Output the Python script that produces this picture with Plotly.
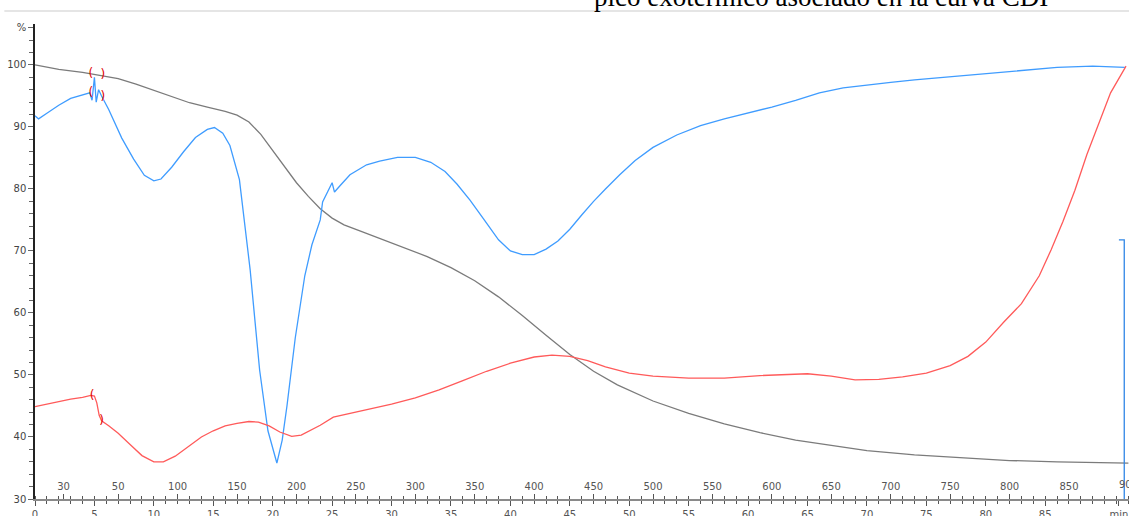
import plotly.graph_objects as go

# ---------------- data ----------------
# TGA mass curve (gray), time in min, value in %
tga_t = [0, 2, 4, 5, 6, 7, 8.5, 10, 11.5, 13, 14.5, 16, 17, 18, 19, 20, 21, 22, 23, 24, 25, 26,
         27.5, 29, 31, 33, 35, 37, 39, 41, 43, 45, 47, 49, 52, 55, 58, 61, 64, 67, 70, 74, 78, 82, 86, 92]
tga_v = [100, 99.3, 98.8, 98.5, 98.2, 97.8, 96.9, 95.9, 94.9, 93.9, 93.2, 92.5, 91.9, 90.8, 88.8, 86.2,
         83.6, 81.0, 78.8, 76.8, 75.3, 74.2, 73.1, 72.0, 70.6, 69.1, 67.3, 65.2, 62.6, 59.6, 56.4, 53.3,
         50.6, 48.4, 45.8, 43.8, 42.1, 40.7, 39.5, 38.6, 37.8, 37.1, 36.6, 36.2, 36.0, 35.8]

# DSC-type curve (blue)
dsc_t = [0, 0.3, 1, 2, 3, 4, 4.6, 4.8, 5.0, 5.15, 5.35, 5.6, 6.2, 7.3, 8.3, 9.2, 10, 10.6, 11.5, 12.5,
         13.5, 14.5, 15.1, 15.8, 16.4, 17.2, 18.1, 18.9, 19.3, 19.6, 20.35, 20.8, 21.2, 21.9, 22.7, 23.3,
         24.0, 24.2, 25.0, 25.2, 25.7, 26.5, 27.9, 29, 30.5, 32, 33.3, 34.5, 35.5, 36.6, 37.8, 39, 40, 41,
         42, 43, 44, 45, 46, 47, 48, 49.2, 50.5, 52, 54, 56, 58, 60, 62, 64, 66, 68, 70, 72, 74, 77, 80,
         83, 86, 89, 91.7]
dsc_v = [91.8, 91.3, 92.2, 93.5, 94.6, 95.2, 95.5, 94.3, 98.0, 94.0, 96.0, 95.0, 92.8, 88.2, 84.8, 82.2,
         81.3, 81.6, 83.5, 86.0, 88.3, 89.6, 89.9, 89.0, 87.0, 81.5, 67.0, 50.8, 45.0, 41.0, 35.8, 39.5,
         45.0, 56.0, 66.0, 71.0, 75.0, 77.9, 81.0, 79.5, 80.6, 82.3, 83.9, 84.5, 85.1, 85.1, 84.3, 82.8,
         80.8, 78.2, 75.0, 71.8, 70.0, 69.4, 69.4, 70.3, 71.6, 73.5, 75.8, 78.0, 80.0, 82.3, 84.6, 86.7,
         88.7, 90.2, 91.3, 92.2, 93.2, 94.3, 95.5, 96.3, 96.8, 97.2, 97.6, 98.1, 98.7, 99.2, 99.6, 99.8, 99.6]

# third curve (red)
red_t = [0, 1, 2, 3, 4, 4.7, 5.0, 5.2, 5.4, 5.6, 6.2, 7, 8, 9, 10, 10.8, 11.8, 13, 14, 15, 16, 17, 18,
         18.8, 19.7, 20.6, 21.6, 22.4, 23.2, 24, 25.1, 26.5, 28, 30, 32, 34, 36, 38, 40, 42, 43.5, 45,
         46.5, 48, 50, 52, 55, 58, 61, 63, 65, 67, 69, 71, 73, 75, 77, 78.5, 80, 81.5, 83, 84.5, 85.5,
         86.5, 87.5, 88.5, 89.5, 90.5, 91.8]
red_v = [44.9, 45.3, 45.8, 46.1, 46.4, 46.7, 46.6, 45.5, 43.5, 42.6, 41.8, 40.6, 38.8, 37.0, 36.0, 36.0,
         36.9, 38.6, 40.0, 41.0, 41.8, 42.2, 42.5, 42.4, 41.8, 40.8, 40.1, 40.3, 41.1, 41.9, 43.2, 43.8,
         44.4, 45.3, 46.3, 47.6, 49.1, 50.6, 51.9, 52.9, 53.2, 53.0, 52.3, 51.3, 50.3, 49.8, 49.5, 49.5,
         49.9, 50.1, 50.2, 49.8, 49.2, 49.3, 49.7, 50.3, 51.5, 53.0, 55.3, 58.5, 61.5, 66.0, 70.2, 74.8,
         79.8, 85.5, 90.5, 95.5, 99.8]

# red bracket markers around the step at ~5 min
brk_t = [4.7, 5.7, 4.7, 5.7, 4.8, 5.6]
brk_v = [98.5, 98.4, 95.5, 94.8, 46.6, 42.6]
brk_txt = ["(", ")", "(", ")", "(", ")"]

# blue end marker (vertical line)
endmark_t = [91.2, 91.65, 91.65]
endmark_v = [71.8, 71.8, 30]

# axis labels
y_ticks = [30, 40, 50, 60, 70, 80, 90, 100, 106]
y_text = ["30", "40", "50", "60", "70", "80", "90", "100", "%"]
time_ticks = [0, 5, 10, 15, 20, 25, 30, 35, 40, 45, 50, 55, 60, 65, 70, 75, 80, 85, 91.2]
time_text = [str(v) for v in time_ticks[:-1]] + ["min"]
temp_labels = [30, 50, 100, 150, 200, 250, 300, 350, 400, 450, 500, 550, 600, 650, 700, 750, 800, 850]
last_temp = 900
# heating at 10 K/min from 30 °C starting at 5 min; the 30 °C label sits on the initial isotherm
def temp_to_time(T):
    return 5 + (T - 30) / 10
temp_ticks = [2.4] + [temp_to_time(T) for T in temp_labels[1:]]

title_text = "pico exotérmico asociado en la curva CDI"

# ---------------- figure ----------------
GRAY = "#7b7b7b"
BLUE = "#3f9cff"
RED = "#ff5a5a"

fig = go.Figure()
fig.add_trace(go.Scatter(x=tga_t, y=tga_v, mode="lines", line=dict(color=GRAY, width=1.3),
                         hoverinfo="skip", showlegend=False))
fig.add_trace(go.Scatter(x=dsc_t, y=dsc_v, mode="lines", line=dict(color=BLUE, width=1.3),
                         hoverinfo="skip", showlegend=False))
fig.add_trace(go.Scatter(x=red_t, y=red_v, mode="lines", line=dict(color=RED, width=1.3),
                         hoverinfo="skip", showlegend=False))
fig.add_trace(go.Scatter(x=brk_t, y=brk_v, mode="text", text=brk_txt,
                         textfont=dict(color="#e00000", size=12, family="DejaVu Sans"),
                         hoverinfo="skip", showlegend=False))
fig.add_trace(go.Scatter(x=endmark_t, y=endmark_v, mode="lines", xaxis="x2",
                         line=dict(color="#2f86e6", width=1.3), hoverinfo="skip", showlegend=False))

tickfont = dict(family="DejaVu Sans", size=10, color="#555555")

fig.update_layout(
    width=1129, height=516,
    margin=dict(l=35, r=0, t=24, b=17, autoexpand=False),
    paper_bgcolor="white", plot_bgcolor="white",
    showlegend=False,
    xaxis=dict(range=[0, 92.05], tickmode="array", tickvals=time_ticks, ticktext=time_text,
               automargin=False,
               ticks="outside", ticklen=5, tickcolor="#555", tickwidth=1,
               minor=dict(dtick=1, tick0=0, ticks="outside", ticklen=3, tickcolor="#555"),
               showline=True, linecolor="#8a8a8a", linewidth=1.5,
               showgrid=False, zeroline=False, tickfont=tickfont),
    xaxis2=dict(range=[0, 92.05], overlaying="x", anchor="free", position=0, side="top",
                automargin=False,
                tickmode="array", tickvals=temp_ticks, ticktext=[str(v) for v in temp_labels],
                ticks="outside", ticklen=5, tickcolor="#555", tickwidth=1,
                minor=dict(dtick=1, tick0=0, ticks="outside", ticklen=3, tickcolor="#555"),
                showline=False, showgrid=False, zeroline=False, tickfont=tickfont),
    yaxis=dict(range=[30, 106.6], tickmode="array", tickvals=y_ticks, ticktext=y_text,
               automargin=False,
               ticks="outside", ticklen=5, tickcolor="#666", tickwidth=1,
               minor=dict(dtick=2, tick0=30, ticks="outside", ticklen=4, tickcolor="#666"),
               showline=True, linecolor="#222222", linewidth=1.5,
               showgrid=False, zeroline=False,
               tickfont=dict(family="DejaVu Sans", size=10, color="#444")),
)

# last temperature label, cut by the right edge as in the original
fig.add_annotation(text=str(last_temp), xref="x", yref="paper", x=temp_to_time(last_temp), y=0,
                   xanchor="center", yanchor="middle", yshift=15, showarrow=False,
                   font=tickfont)

# separator line and cropped caption at the top
fig.add_shape(type="line", xref="paper", yref="paper", x0=-0.028, x1=1.0, y0=1.0274, y1=1.0274,
              line=dict(color="#dcdcdc", width=1.5))
fig.add_annotation(text=title_text, xref="paper", yref="paper", x=0.509, y=1.021,
                   xanchor="left", yanchor="bottom", showarrow=False,
                   font=dict(family="Liberation Serif", size=27, color="black"))

fig.write_html("out.html", config={"displayModeBar": False},
               post_script="document.body.style.margin='0px';document.body.style.overflow='hidden';")
